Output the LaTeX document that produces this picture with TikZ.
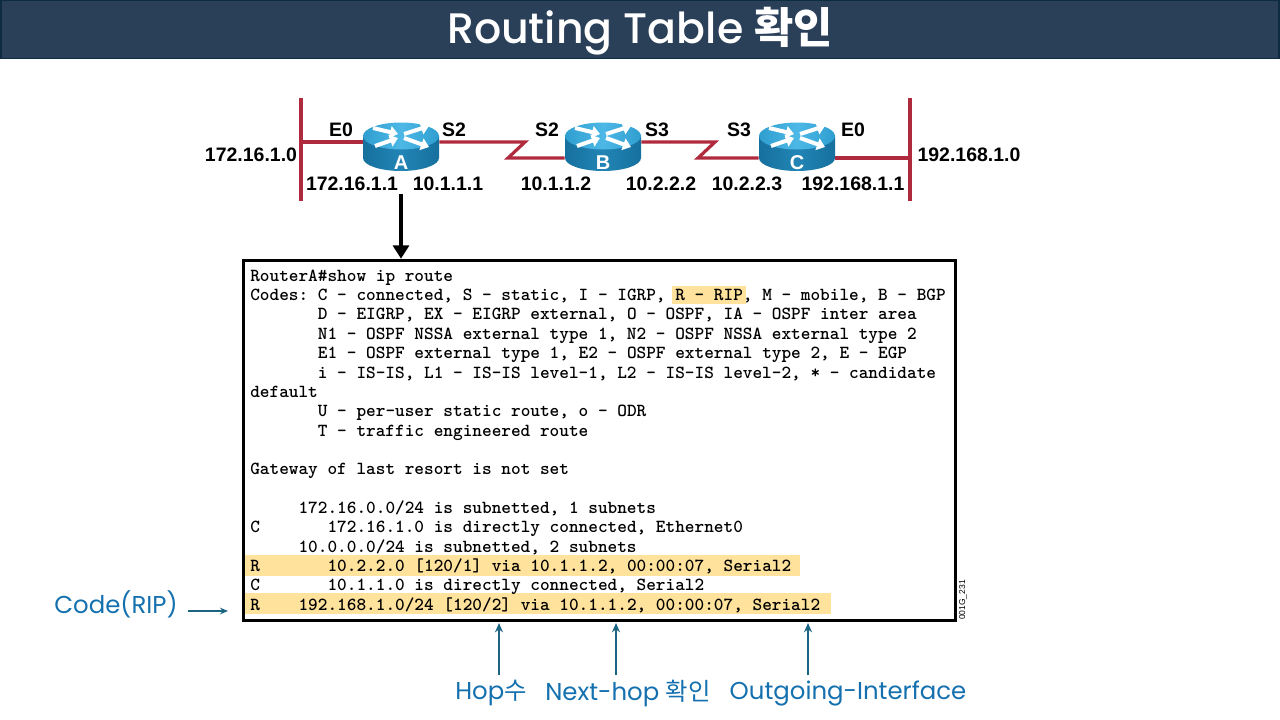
\documentclass[tikz,border=0pt]{standalone}
\usepackage{fontspec}
\setmainfont{Poppins}
\newfontfamily\labelfont{Liberation Sans}
\newfontfamily\krfont{Noto Sans CJK KR}
\usetikzlibrary{arrows.meta}
\definecolor{titlebar}{HTML}{2A3F58}
\definecolor{titleedge}{HTML}{0E2C40}
\definecolor{linkred}{HTML}{B02A3E}
\definecolor{notehl}{HTML}{FFE29C}
\definecolor{noteblue}{HTML}{1470AE}
\definecolor{tealarrow}{HTML}{1B6583}
\definecolor{rtdark}{HTML}{16709E}
\definecolor{rtmid}{HTML}{2285B5}
\definecolor{rttopa}{HTML}{2F9FD0}
\definecolor{rttopb}{HTML}{4DB8E6}
\tikzset{router/.pic={
  \path[left color=rtdark, right color=rtdark, middle color=rtmid]
    (-38,-11) -- (-38,11) arc[start angle=180, end angle=0, x radius=38, y radius=13] -- (38,-11) -- cycle;
  \path[left color=rttopa, right color=rttopa, middle color=rttopb] (0,-11) ellipse[x radius=38, y radius=13.5];
  \foreach \ax/\ay/\bx/\by in {-28/-19/-3/-13, -26/-1/-3/-9, 3/-13/28/-21, 3/-9/28/0}
    \draw[white, line width=3pt, -{Triangle[length=6pt, width=9pt]}] (\ax,\ay) -- (\bx,\by);
}}
\begin{document}
\begin{tikzpicture}[x=0.75pt, y=-0.75pt,
  lan/.style={draw=linkred, line width=2.4pt},
  addr/.style={font=\labelfont\bfseries\fontsize{14.6}{16}\selectfont, inner sep=0pt},
  rtbox/.style={minimum width=57pt, minimum height=36pt, inner sep=0pt},
  rtname/.style={font=\labelfont\bfseries\fontsize{15}{16}\selectfont, text=white, inner sep=0pt},
  note/.style={font=\fontsize{18.3}{20}\selectfont, text=noteblue, inner sep=0pt},
  hl/.style={fill=notehl, inner sep=0pt},
  tip/.style={-{Stealth[length=7pt, width=6pt]}, tealarrow, line width=1pt}]
\useasboundingbox (0,0) rectangle (1280,720);
% title
\node[fill=titlebar, draw=titleedge, line width=1pt, minimum width=958.5pt, minimum height=43.5pt, inner sep=0pt] (bar) at (640,29.5) {};
\node[font=\fontsize{32}{36}\selectfont\fontspec{Poppins Medium}, text=white, inner sep=0pt] (title) at (640,31) {Routing Table {\krfont\bfseries 확인}};
% network
\coordinate (busa) at (301,142);
\coordinate (busat) at (301,98);
\coordinate (busab) at (301,201);
\coordinate (busc) at (910,158);
\coordinate (busct) at (910,98);
\coordinate (buscb) at (910,201);
\draw[lan] (busat) -- (busab);
\draw[lan] (busct) -- (buscb);
\node[rtbox] (ra) at (401,147) {};
\node[rtbox] (rb) at (603,147) {};
\node[rtbox] (rc) at (797,147) {};
\draw[lan] (busa) -- (ra.west |- busa);
\draw[lan] (ra.east |- busa) -- (525,142) -- (508,158) -- (rb.west |- busc);
\draw[lan] (rb.east |- busa) -- (715,142) -- (698,158) -- (rc.west |- busc);
\draw[lan] (rc.east |- busc) -- (busc);
\pic at (401,147) {router};
\pic at (603,147) {router};
\pic at (797,147) {router};
\node[rtname] (na) at (401,163) {A};
\node[rtname] (nb) at (603,163) {B};
\node[rtname] (nc) at (797,163) {C};
\node[addr] (e0a) at (341,130) {E0};
\node[addr] (s2a) at (454,130) {S2};
\node[addr] (s2b) at (547,130) {S2};
\node[addr] (s3b) at (657,130) {S3};
\node[addr] (s3c) at (739,130) {S3};
\node[addr] (e0c) at (853,130) {E0};
\node[addr] (neta) at (251,155) {172.16.1.0};
\node[addr] (netc) at (969,155) {192.168.1.0};
\node[addr] (ipa1) at (352,184) {172.16.1.1};
\node[addr] (ipa2) at (448,184) {10.1.1.1};
\node[addr] (ipb1) at (556,184) {10.1.1.2};
\node[addr] (ipb2) at (661,184) {10.2.2.2};
\node[addr] (ipc1) at (747,184) {10.2.2.3};
\node[addr] (ipc2) at (853,184) {192.168.1.1};
% output box
\node[draw, line width=2.2pt, minimum width=534.5pt, minimum height=270.5pt, inner sep=0pt] (cli) at (599.5,440.5) {};
\node[hl, minimum width=55.5pt, minimum height=14pt] (hla) at (709,295) {};
\node[hl, minimum width=416pt, minimum height=15.5pt] (hlb) at (522.5,565.5) {};
\node[hl, minimum width=439.5pt, minimum height=15.5pt] (hlc) at (538,603.5) {};
\node[anchor=north west, align=left, inner sep=0pt, font=\ttfamily\bfseries\frenchspacing\fontsize{13.8}{14.52}\selectfont] (clitext) at (250,269.5) {%
RouterA\#show ip route\\
Codes: C - connected, S - static, I - IGRP, R - RIP, M - mobile, B - BGP\\
~~~~~~~D - EIGRP, EX - EIGRP external, O - OSPF, IA - OSPF inter area\\
~~~~~~~N1 - OSPF NSSA external type 1, N2 - OSPF NSSA external type 2\\
~~~~~~~E1 - OSPF external type 1, E2 - OSPF external type 2, E - EGP\\
~~~~~~~i - IS-IS, L1 - IS-IS level-1, L2 - IS-IS level-2, * - candidate\\
default\\
~~~~~~~U - per-user static route, o - ODR\\
~~~~~~~T - traffic engineered route\\
~\\
Gateway of last resort is not set\\
~\\
~~~~~172.16.0.0/24 is subnetted, 1 subnets\\
C~~~~~~~172.16.1.0 is directly connected, Ethernet0\\
~~~~~10.0.0.0/24 is subnetted, 2 subnets\\
R~~~~~~~10.2.2.0 [120/1] via 10.1.1.2, 00:00:07, Serial2\\
C~~~~~~~10.1.1.0 is directly connected, Serial2\\
R~~~~192.168.1.0/24 [120/2] via 10.1.1.2, 00:00:07, Serial2};
\node[rotate=90, font=\labelfont\fontsize{6.4}{7}\selectfont, inner sep=0pt] (figid) at (963,600) {001G\_231};
% arrows
\coordinate (feed) at (401,194);
\draw[line width=2.4pt, -{Triangle[length=10pt, width=12pt]}] (feed) -- (cli.north -| feed);
\node[note] (code) at (116,604) {Code(RIP)};
\coordinate (codea) at (188,611);
\coordinate (codeb) at (228,611);
\draw[-{Stealth[length=6pt, width=5pt]}, tealarrow, line width=1pt] (codea) -- (codeb);
\node[note] (hop) at (491,693) {Hop{\krfont 수}};
\node[note] (nexthop) at (628,693) {Next-hop {\krfont 확인}};
\node[note] (outif) at (848,693) {Outgoing-Interface};
\coordinate (hopa) at (499,675);
\coordinate (hopb) at (499,623);
\coordinate (nexta) at (616,675);
\coordinate (nextb) at (616,623);
\coordinate (outa) at (808,675);
\coordinate (outb) at (808,623);
\draw[tip] (hopa) -- (hopb);
\draw[tip] (nexta) -- (nextb);
\draw[tip] (outa) -- (outb);
\end{tikzpicture}
\end{document}
